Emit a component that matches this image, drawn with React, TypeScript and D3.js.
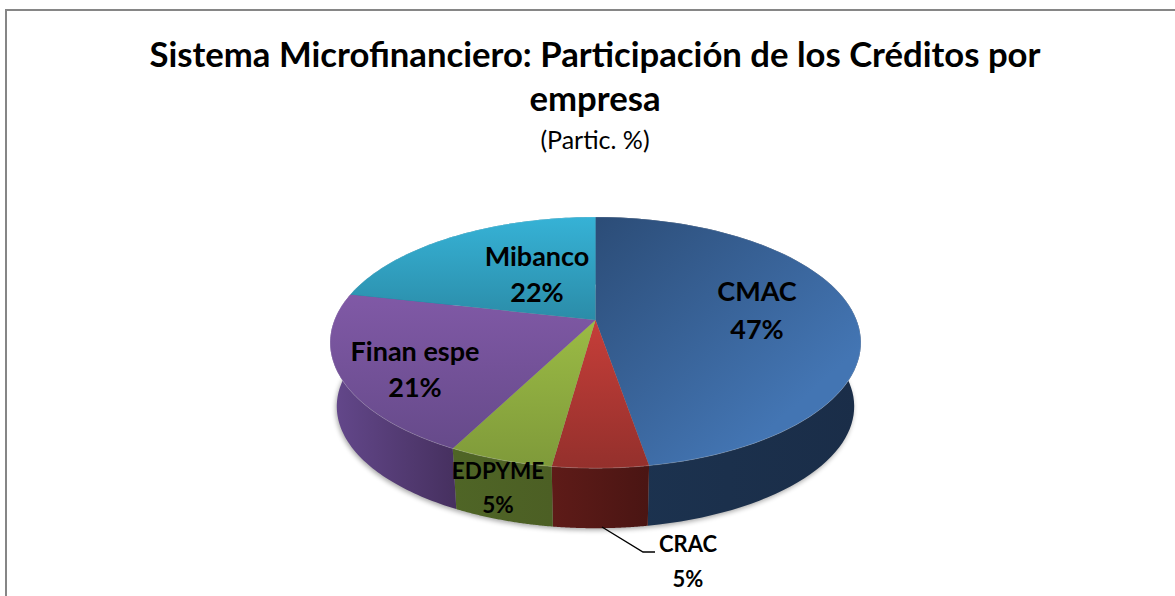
import React from "react";
import * as d3 from "d3";

const categories = ["CMAC", "CRAC", "EDPYME", "Finan espe", "Mibanco"];
const shares = [47.3, 4.9, 5.4, 20.9, 21.5];
const topLight = ["#4375b3", "#c63e39", "#9bbb45", "#8059a6", "#36b2d6"];
const topDark = ["#2c4d78", "#94302c", "#7f9a3a", "#664a8a", "#2b8ca8"];
const wallLight = ["#1c3350", "#5e1b18", "#4f6526", "#64488c", "#1d7c98"];
const wallDark = ["#1a2d48", "#4a1513", "#4c5f24", "#46305f", "#1d7c98"];

const titleLines = ["Sistema Microfinanciero: Participación de los Créditos por", "empresa"];
const subtitle = "(Partic. %)";

const FONT = "Lato, 'Open Sans', sans-serif";

// Perspective projection of the pie's disc onto the picture
const hubX = 595.5;
const hubY = 320;
const scaleX = 261;
const scaleY = 121.5;
const tilt = 0.18;
const baseScaleX = 0.975;
const baseScaleY = 0.97;
const baseDrop = 64.5;

const project = (angle: number, base = false): [number, number] => {
  const u = Math.sin(angle);
  const v = -Math.cos(angle);
  const w = 1 - tilt * v;
  const x = (scaleX * u) / w;
  const y = (scaleY * v) / w;
  return base
    ? [hubX + x * baseScaleX, hubY + y * baseScaleY + baseDrop]
    : [hubX + x, hubY + y];
};

const pieLayout = d3.pie<number>().sort(null).value((d) => d);
const arcs = pieLayout(shares);
const line = d3.line();

const arcPoints = (a0: number, a1: number, base = false) =>
  d3.range(0, 81).map((i) => project(a0 + ((a1 - a0) * i) / 80, base));

const topPath = (a0: number, a1: number) =>
  line([[hubX, hubY], ...arcPoints(a0, a1)])! + "Z";

const rimPath = (a0: number, a1: number) => line(arcPoints(a0, a1))!;

const wallPath = (a0: number, a1: number) =>
  line([...arcPoints(a0, a1), ...arcPoints(a0, a1, true).reverse()])! + "Z";

const basePath = () => line(arcPoints(0, Math.PI * 2, true))! + "Z";

const labelSpots = [
  { name: 0, x: 757, y: 301, size: 27, gap: 38 },
  { name: 1, x: 688, y: 552, size: 22, gap: 35 },
  { name: 2, x: 498, y: 479, size: 22.5, gap: 34 },
  { name: 3, x: 415, y: 361, size: 27, gap: 36 },
  { name: 4, x: 537, y: 266, size: 27, gap: 36 },
];

export default function App() {
  return (
    <svg
      width={1175}
      height={596}
      viewBox="0 0 1175 596"
      style={{ position: "absolute", left: 0, top: 0, background: "#fff" }}
      fontFamily={FONT}
    >
      <defs>
        {categories.map((_, i) => (
          <React.Fragment key={i}>
            {i === 0 ? (
              <linearGradient id="top0" gradientUnits="userSpaceOnUse" x1={600} y1={220} x2={780} y2={420}>
                <stop offset="0" stopColor={topDark[0]} />
                <stop offset="1" stopColor={topLight[0]} />
              </linearGradient>
            ) : (
              <linearGradient id={`top${i}`} x1="0" y1="0" x2="0" y2="1">
                <stop offset="0" stopColor={topLight[i]} />
                <stop offset="1" stopColor={topDark[i]} />
              </linearGradient>
            )}
            <linearGradient id={`wall${i}`} x1="0" y1="0" x2="1" y2="0">
              <stop offset="0" stopColor={wallLight[i]} />
              <stop offset="1" stopColor={wallDark[i]} />
            </linearGradient>
          </React.Fragment>
        ))}
        <filter id="soft" x="-10%" y="-10%" width="120%" height="120%">
          <feGaussianBlur stdDeviation="2.5" />
        </filter>
      </defs>
      <path d="M6 596 V10 H1175" fill="none" stroke="#868686" strokeWidth={2} />

      {titleLines.map((t, i) => (
        <text key={t} x={595} y={67 + i * 44} textAnchor="middle" fontSize={34.7} fontWeight={700} fill="#000">
          {t}
        </text>
      ))}
      <text x={595} y={149} textAnchor="middle" fontSize={25} fill="#000">
        {subtitle}
      </text>

      <path d={basePath()} transform="translate(-1,2)" fill="#000" opacity={0.35} filter="url(#soft)" />

      {arcs.map((a, i) => (
        <path key={i} d={wallPath(a.startAngle, a.endAngle)} fill={`url(#wall${i})`} />
      ))}
      {arcs.map((a, i) => (
        <path key={i} d={topPath(a.startAngle, a.endAngle)} fill={`url(#top${i})`} />
      ))}
      {arcs.map((a, i) => (
        <path key={i} d={rimPath(a.startAngle, a.endAngle)} fill="none" stroke="#fff" strokeOpacity={0.18} strokeWidth={1} />
      ))}

      <path
        d={line([[602, 527], [643, 552], [655, 552]])!}
        fill="none"
        stroke="#000"
        strokeWidth={1.4}
      />

      {labelSpots.map((l) => (
        <g key={l.name} fontWeight={700} fill="#000" textAnchor="middle" fontSize={l.size}>
          <text x={l.x} y={l.y}>{categories[l.name]}</text>
          <text x={l.x} y={l.y + l.gap}>{`${d3.format(".0f")(shares[l.name])}%`}</text>
        </g>
      ))}
    </svg>
  );
}
